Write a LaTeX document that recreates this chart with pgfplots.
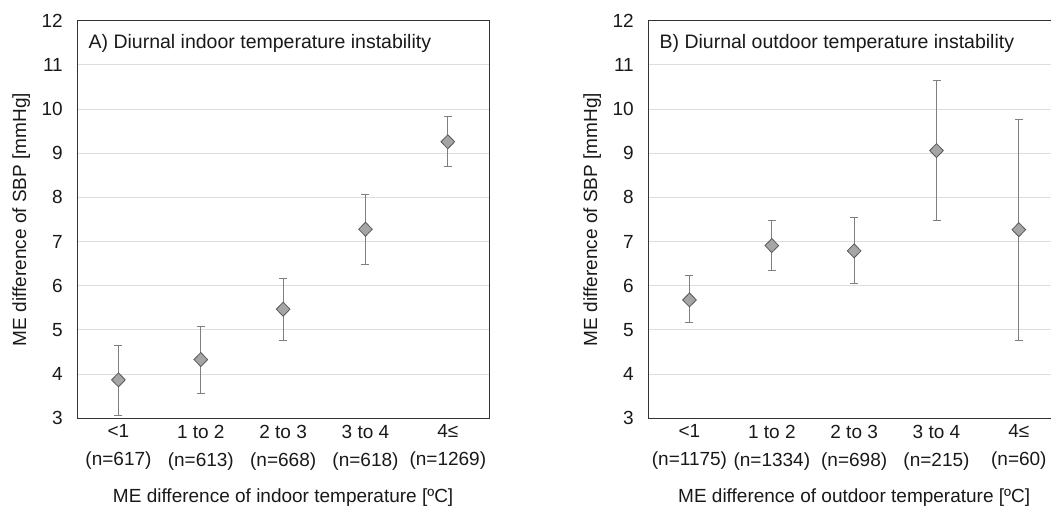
\documentclass[border=0pt]{standalone}
\usepackage{fontspec}
\setmainfont{Liberation Sans}
\usepackage{pgfplots}
\pgfplotsset{compat=1.18}
\usepackage{pgfplotstable}

% mean, error plus, error minus
\pgfplotstableread{
x y    ep   em
0 3.87 0.78 0.80
1 4.33 0.75 0.76
2 5.47 0.69 0.70
3 7.28 0.79 0.80
4 9.26 0.57 0.57
}\indoor
\pgfplotstableread{
x y    ep   em
0 5.68 0.55 0.52
1 6.91 0.56 0.57
2 6.79 0.76 0.74
3 9.06 1.59 1.59
4 7.27 2.49 2.50
}\outdoor

\definecolor{markfill}{HTML}{A5A5A5}
\definecolor{markdraw}{HTML}{595959}
\definecolor{errcol}{HTML}{7F7F7F}

\pgfplotsset{panel/.style={
    scale only axis, width=411.7pt, height=397.6pt,
    xmin=-0.5, xmax=4.5, ymin=3, ymax=12,
    xtick={0,...,4}, ytick={3,...,12},
    major tick length=0pt,
    ymajorgrids, grid style={color=black!13, line width=0.9pt},
    axis line style={black!80, line width=1pt},
    /pgf/number format/assume math mode=true,
    tick label style={font=\fontsize{19}{28}\selectfont, text=black!90},
    yticklabel style={xshift=-11pt},
    xticklabel style={align=center, yshift=-3pt},
    every axis y label/.style={at={(axis description cs:-0.136,0.5)}, rotate=90, anchor=center,
        font=\fontsize{19}{22}\selectfont, text=black!90},
    every axis x label/.style={at={(axis description cs:0.5,-0.2)}, anchor=center,
        font=\fontsize{19}{22}\selectfont, text=black!90},
    ylabel={ME difference of SBP [mmHg]},
}}
\pgfplotsset{pts/.style={
    only marks, mark=diamond*, mark size=7pt,
    mark options={fill=markfill, draw=markdraw, line width=0.8pt, xscale=1.3},
    error bars/.cd, y dir=both, y explicit,
    error bar style={errcol, line width=1pt},
    error mark options={rotate=90, mark size=4pt, errcol, line width=1pt},
}}

\begin{document}
\begin{tikzpicture}
\begin{axis}[panel, at={(77.3pt,88.7pt)}, anchor=south west,
    xticklabels={{<1\\(n=617)},{1 to 2\\(n=613)},{2 to 3\\(n=668)},{3 to 4\\(n=618)},{4≤\\(n=1269)}},
    xlabel={ME difference of indoor temperature [ºC]}]
\addplot[pts] table[x=x, y=y, y error plus=ep, y error minus=em] {\indoor};
\node[anchor=west, font=\fontsize{19.5}{22}\selectfont, text=black!90] at (axis description cs:0.019,0.943) {A) Diurnal indoor temperature instability};
\end{axis}
\begin{axis}[panel, at={(648.3pt,88.7pt)}, anchor=south west,
    xticklabels={{<1\\(n=1175)},{1 to 2\\(n=1334)},{2 to 3\\(n=698)},{3 to 4\\(n=215)},{4≤\\(n=60)}},
    xlabel={ME difference of outdoor temperature [ºC]}]
\addplot[pts] table[x=x, y=y, y error plus=ep, y error minus=em] {\outdoor};
\node[anchor=west, font=\fontsize{19.5}{22}\selectfont, text=black!90] at (axis description cs:0.019,0.943) {B) Diurnal outdoor temperature instability};
\end{axis}
\pgfresetboundingbox
\path (0pt,0pt) rectangle (1051pt,507pt);
\end{tikzpicture}
\end{document}
